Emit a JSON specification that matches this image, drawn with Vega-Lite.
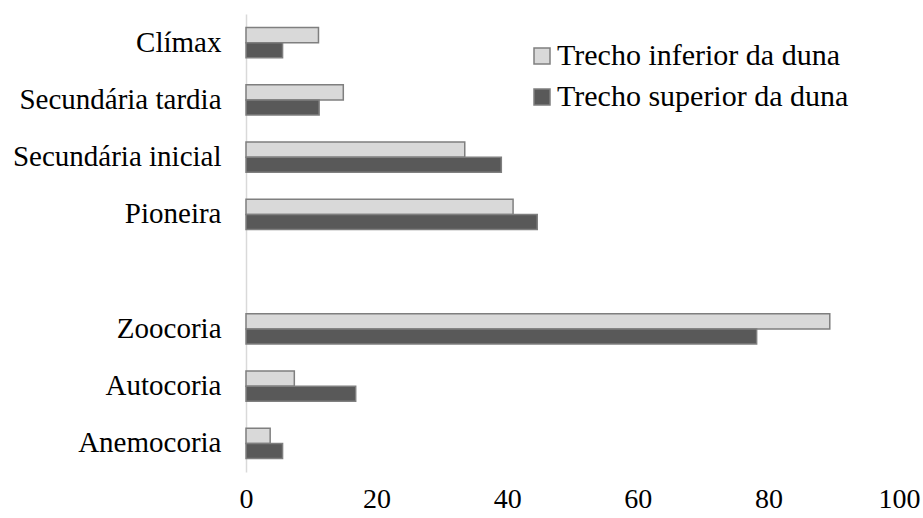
{
  "$schema": "https://vega.github.io/schema/vega-lite/v6.json",
  "width": 653,
  "height": 458,
  "autosize": {"type": "none"},
  "padding": {"left": 246, "top": 14, "right": 24, "bottom": 46},
  "background": "white",
  "config": {"view": {"stroke": null}, "font": "Liberation Serif, Times New Roman, serif"},
  "data": {
    "values": [
      {"categoria": "Clímax", "serie": "Trecho inferior da duna", "valor": 11.1},
      {"categoria": "Clímax", "serie": "Trecho superior da duna", "valor": 5.6},
      {"categoria": "Secundária tardia", "serie": "Trecho inferior da duna", "valor": 14.9},
      {"categoria": "Secundária tardia", "serie": "Trecho superior da duna", "valor": 11.2},
      {"categoria": "Secundária inicial", "serie": "Trecho inferior da duna", "valor": 33.5},
      {"categoria": "Secundária inicial", "serie": "Trecho superior da duna", "valor": 39.1},
      {"categoria": "Pioneira", "serie": "Trecho inferior da duna", "valor": 40.9},
      {"categoria": "Pioneira", "serie": "Trecho superior da duna", "valor": 44.6},
      {"categoria": "Zoocoria", "serie": "Trecho inferior da duna", "valor": 89.4},
      {"categoria": "Zoocoria", "serie": "Trecho superior da duna", "valor": 78.2},
      {"categoria": "Autocoria", "serie": "Trecho inferior da duna", "valor": 7.4},
      {"categoria": "Autocoria", "serie": "Trecho superior da duna", "valor": 16.8},
      {"categoria": "Anemocoria", "serie": "Trecho inferior da duna", "valor": 3.7},
      {"categoria": "Anemocoria", "serie": "Trecho superior da duna", "valor": 5.6}
    ]
  },
  "mark": {"type": "bar", "stroke": "#7f7f7f", "strokeWidth": 1.5},
  "encoding": {
    "y": {
      "field": "categoria",
      "type": "nominal",
      "scale": {
        "domain": ["Clímax", "Secundária tardia", "Secundária inicial", "Pioneira", " ", "Zoocoria", "Autocoria", "Anemocoria"],
        "paddingInner": 0.47,
        "paddingOuter": 0.235
      },
      "axis": {
        "title": null,
        "ticks": false,
        "domainColor": "#d9d9d9",
        "domainWidth": 1.5,
        "labelFontSize": 29,
        "labelColor": "#000000",
        "labelPadding": 25,
        "labelFont": "Liberation Serif, Times New Roman, serif",
        "labelLimit": 0
      }
    },
    "x": {
      "field": "valor",
      "type": "quantitative",
      "scale": {"domain": [0, 100]},
      "axis": {
        "title": null,
        "values": [0, 20, 40, 60, 80, 100],
        "grid": false,
        "domain": false,
        "ticks": false,
        "labelFontSize": 28,
        "labelColor": "#000000",
        "labelFont": "Liberation Serif, Times New Roman, serif",
        "labelPadding": 13,
        "labelFlush": false
      }
    },
    "yOffset": {
      "field": "serie",
      "type": "nominal",
      "scale": {"domain": ["Trecho inferior da duna", "Trecho superior da duna"]}
    },
    "color": {
      "field": "serie",
      "type": "nominal",
      "scale": {
        "domain": ["Trecho inferior da duna", "Trecho superior da duna"],
        "range": ["#d9d9d9", "#595959"]
      },
      "legend": {
        "title": null,
        "orient": "none",
        "legendX": 281,
        "legendY": 27,
        "padding": 0,
        "symbolType": "square",
        "symbolSize": 256,
        "symbolStrokeColor": "#7f7f7f",
        "symbolStrokeWidth": 1.5,
        "labelFontSize": 30,
        "labelFont": "Liberation Serif, Times New Roman, serif",
        "labelColor": "#000000",
        "labelOffset": 0,
        "labelLimit": 0,
        "rowPadding": 11
      }
    }
  }
}
